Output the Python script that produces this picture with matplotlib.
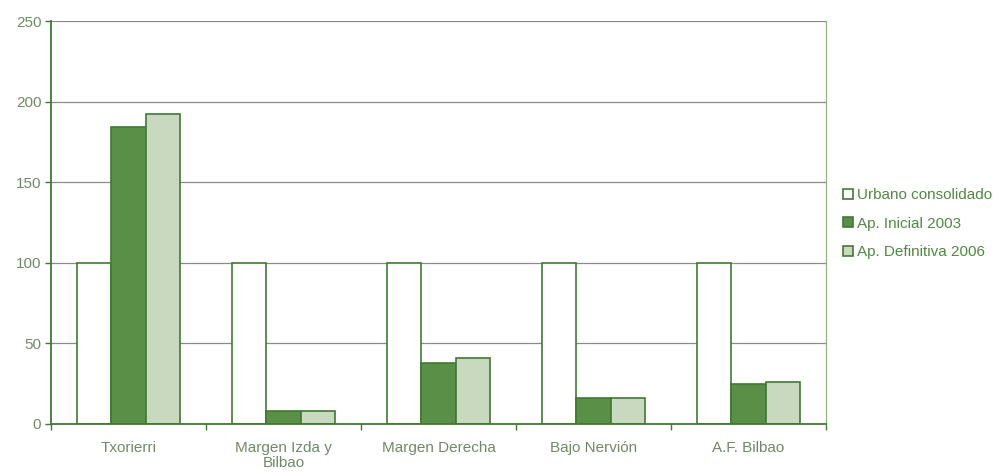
import numpy as np
import matplotlib.pyplot as plt

plt.rcParams['font.family'] = ['Liberation Sans', 'DejaVu Sans']

categories = ['Txorierri', 'Margen Izda y\nBilbao', 'Margen Derecha', 'Bajo Nervión', 'A.F. Bilbao']
urbano = [100, 100, 100, 100, 100]
inicial_2003 = [184, 8, 38, 16, 25]
definitiva_2006 = [192, 8, 41, 16, 26]
series_names = ['Urbano consolidado', 'Ap. Inicial 2003', 'Ap. Definitiva 2006']

edge = '#3f7a32'
text_col = '#6f8a66'

fig = plt.figure(figsize=(10, 4.73), dpi=100)
ax = fig.add_axes([0.051, 0.1036, 0.775, 0.852])

x = np.arange(len(categories))
w = 0.222
ax.bar(x - w, urbano, w, color='white', edgecolor=edge, linewidth=1.2, label=series_names[0], zorder=2)
ax.bar(x, inicial_2003, w, color='#5a8f48', edgecolor=edge, linewidth=1.2, label=series_names[1], zorder=2)
ax.bar(x + w, definitiva_2006, w, color='#c8d9bf', edgecolor=edge, linewidth=1.2, label=series_names[2], zorder=2)

ax.set_xlim(-0.5, len(categories) - 0.5)
ax.set_ylim(0, 250)
ax.set_yticks([0, 50, 100, 150, 200, 250])
ax.yaxis.grid(True, color='#8a8a8a', linewidth=0.9)
ax.set_axisbelow(True)

ax.set_xticks(x)
ax.set_xticklabels(categories, linespacing=1.15)
ax.set_xticks(np.arange(len(categories) + 1) - 0.5, minor=True)
ax.tick_params(axis='x', which='major', length=0, pad=12, labelsize=11, labelcolor=text_col)
ax.tick_params(axis='x', which='minor', length=4, color=edge, width=1)
ax.tick_params(axis='y', length=4, color=edge, width=1, labelsize=11, labelcolor=text_col, pad=3)

ax.spines['top'].set_visible(False)
ax.spines['left'].set_color(edge)
ax.spines['left'].set_linewidth(1.3)
ax.spines['bottom'].set_color(edge)
ax.spines['bottom'].set_linewidth(1.3)
ax.spines['right'].set_color('#8fb57f')
ax.spines['right'].set_linewidth(0.9)

leg = ax.legend(loc='center left', bbox_to_anchor=(1.014, 0.497), frameon=False,
                fontsize=11, handlelength=0.65, handleheight=0.65, handletextpad=0.3,
                labelspacing=0.95, borderaxespad=0)
for t in leg.get_texts():
    t.set_color('#4f8a40')

fig.savefig('out.png', dpi=100)
